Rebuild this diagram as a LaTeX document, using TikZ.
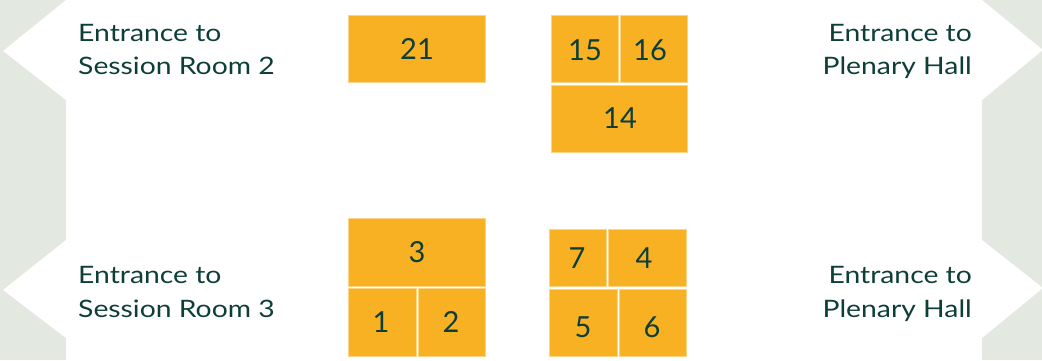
\documentclass[tikz,border=0pt]{standalone}
\usepackage{fontspec}
\setmainfont{Lato}
\newfontfamily\lblfont{Lato}[FakeStretch=1.18]
\definecolor{gold}{HTML}{F8B122}
\definecolor{ink}{HTML}{0E3E38}
\definecolor{wall}{HTML}{E3E8E1}
\begin{document}
\begin{tikzpicture}[x=1pt,y=-1pt,
  booth/.style={fill=gold, draw=gold!55!white, line width=0.6pt},
  num/.style={text=ink, font=\fontsize{29}{34}\selectfont, inner sep=0pt},
  lbl/.style={text=ink, font=\lblfont\fontsize{24}{29}\selectfont, inner sep=0pt}]
\useasboundingbox (0,0) rectangle (1042,360);
% walls with entrance arrows
\fill[wall] (0,0) rectangle (66,360);
\fill[wall] (982,0) rectangle (1042,360);
\fill[white] (66,0) -- (3,51) -- (66,100) -- cycle;
\fill[white] (66,240) -- (3,290) -- (66,338) -- cycle;
\fill[white] (982,0) -- (1043,50) -- (982,100) -- cycle;
\fill[white] (982,240) -- (1043,288) -- (982,338) -- cycle;
% labels
\node[lbl, anchor=base west] (sr2a) at (78,41) {Entrance to};
\node[lbl, anchor=base west] (sr2b) at (78,74) {Session Room 2};
\node[lbl, anchor=base west] (sr3a) at (78,283) {Entrance to};
\node[lbl, anchor=base west] (sr3b) at (78,317) {Session Room 3};
\node[lbl, anchor=base east] (ph1a) at (972,41) {Entrance to};
\node[lbl, anchor=base east] (ph1b) at (972,74) {Plenary Hall};
\node[lbl, anchor=base east] (ph2a) at (972,283) {Entrance to};
\node[lbl, anchor=base east] (ph2b) at (972,317) {Plenary Hall};
% booths
\path[booth] (348,15) rectangle (485,82);
\path[booth] (551,15) rectangle (618,82);
\path[booth] (620,15) rectangle (687,82);
\path[booth] (551,85) rectangle (687,152);
\path[booth] (348,218) rectangle (485,286);
\path[booth] (348,288) rectangle (416,356);
\path[booth] (418,288) rectangle (485,356);
\path[booth] (549,229) rectangle (606,286);
\path[booth] (608,229) rectangle (686,286);
\path[booth] (549,289) rectangle (617,356);
\path[booth] (619,289) rectangle (686,356);
% numbers
\node[num] (b21) at (417,49) {21};
\node[num] (b15) at (585,50) {15};
\node[num] (b16) at (650,50) {16};
\node[num] (b14) at (620,118) {14};
\node[num] (b3) at (417,252) {3};
\node[num] (b1) at (381,322) {1};
\node[num] (b2) at (451,322) {2};
\node[num] (b7) at (577,258) {7};
\node[num] (b4) at (644,258) {4};
\node[num] (b5) at (583,327) {5};
\node[num] (b6) at (652,327) {6};
\end{tikzpicture}
\end{document}
